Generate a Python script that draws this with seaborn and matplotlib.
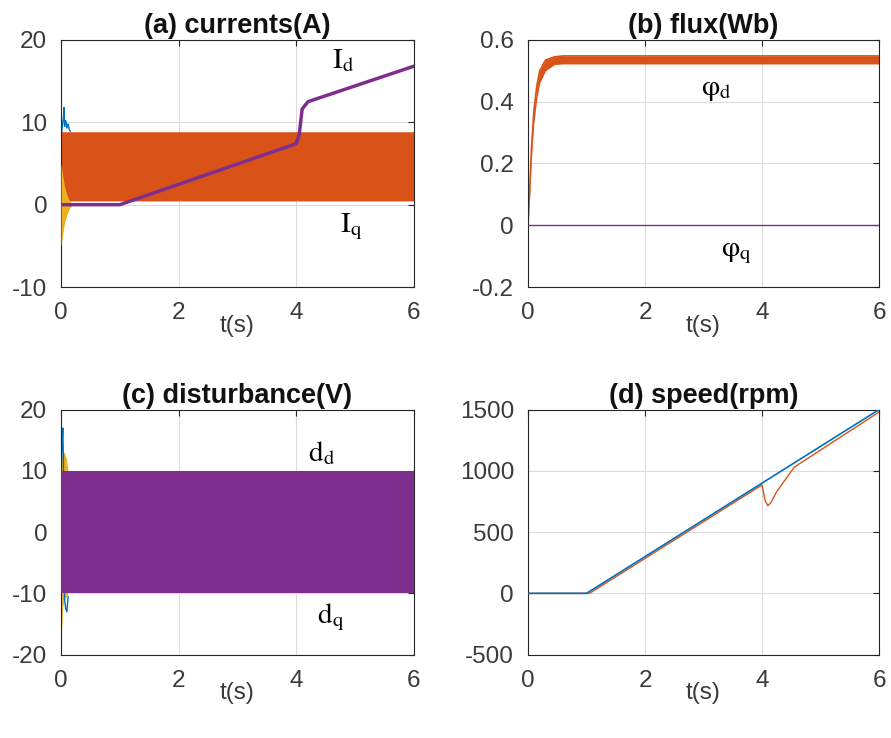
import matplotlib
matplotlib.use("Agg")
import matplotlib.pyplot as plt
import seaborn as sns
import numpy as np
import pandas as pd

sns.set_style("white")
plt.rcParams['font.family'] = ['Liberation Sans', 'DejaVu Sans']
plt.rcParams['mathtext.fontset'] = 'stix'

BLUE = "#0072BD"
ORANGE = "#D95319"
YELLOW = "#EDB120"
PURPLE = "#7E2F8E"

# ---------------- data ----------------
# (a) currents
id_t = [0, 1.0, 4.0, 4.05, 4.1, 4.2, 6.0]
id_v = [0, 0, 7.4, 8.5, 11.6, 12.5, 16.8]
iq_band_t = [0, 0.02, 6.0]
iq_band_lo = [0.5, 0.45, 0.45]
iq_band_hi = [9.0, 8.85, 8.85]
a_blue_t = [0, 0.02, 0.04, 0.05, 0.06, 0.08, 0.1, 0.12, 0.14, 0.16]
a_blue_v = [8.0, 9.5, 10.5, 11.8, 9.5, 10.2, 9.3, 9.8, 9.1, 8.9]
a_yel_t = [0, 0.03, 0.06, 0.1, 0.14, 0.19]
a_yel_lo = [-5.0, -3.5, -2.2, -1.2, -0.5, 0]
a_yel_hi = [5.0, 3.5, 2.2, 1.2, 0.5, 0]

# (b) flux
phd_t = [0, 0.03, 0.06, 0.1, 0.15, 0.2, 0.3, 0.45, 0.6, 6.0]
phd_lo = [0, 0.10, 0.22, 0.33, 0.41, 0.46, 0.50, 0.52, 0.522, 0.522]
phd_hi = [0, 0.12, 0.25, 0.37, 0.45, 0.50, 0.535, 0.545, 0.548, 0.548]
phq_t = [0, 6.0]
phq_v = [0, 0]

# (c) disturbance
dq_band_t = [0, 0.02, 6.0]
dq_band_lo = [-10.0, -10.0, -10.0]
dq_band_hi = [10.0, 10.0, 10.0]
c_blue_t = [0, 0.02, 0.03, 0.04, 0.06, 0.08, 0.1, 0.12]
c_blue_v = [10.0, 15.0, 17.0, 12.0, -11.0, -12.5, -13.0, -10.5]
c_yel_t = [0, 0.01, 0.03, 0.06, 0.09, 0.12]
c_yel_lo = [-20.0, -16.0, -12.0, -11.0, -10.5, -10.0]
c_yel_hi = [10.0, 12.0, 13.0, 13.0, 12.0, 10.0]

# (d) speed
ref_t = [0, 1.0, 6.0]
ref_v = [0, 0, 1500]
spd_t = [0, 1.05, 4.0, 4.05, 4.1, 4.15, 4.25, 4.4, 4.55, 6.0]
spd_v = [0, 0, 885, 760, 715, 740, 830, 930, 1030, 1480]

xticks = [0, 2, 4, 6]

fig = plt.figure(figsize=(8.91, 7.38), dpi=100)
axa = fig.add_axes([0.0685, 0.611, 0.396, 0.335])
axb = fig.add_axes([0.5926, 0.611, 0.394, 0.335])
axc = fig.add_axes([0.0685, 0.113, 0.396, 0.332])
axd = fig.add_axes([0.5926, 0.113, 0.394, 0.332])

def style(ax, title, ylim, yticks):
    ax.set_xlim(0, 6)
    ax.set_ylim(*ylim)
    ax.set_xticks(xticks)
    ax.set_yticks(yticks)
    ax.set_xticklabels([str(v) for v in xticks])
    ax.set_yticklabels([f"{v:g}" for v in yticks])
    ax.grid(True, color="#dcdcdc", linewidth=0.8)
    ax.set_axisbelow(True)
    ax.tick_params(direction="in", length=4, labelsize=17.5, colors="#262626",
                   labelcolor="#3a3a3a", top=True, right=True)
    ax.tick_params(axis="y", pad=10)
    ax.tick_params(axis="x", pad=11)
    for s in ax.spines.values():
        s.set_color("#262626")
        s.set_linewidth(0.8)
    ax.set_title(title, fontsize=19.5, fontweight="bold", pad=5, color="#111111")
    ax.set_xlabel("t(s)", fontsize=17.5, labelpad=-7, color="#3a3a3a")
    ax.set_ylabel("")

# (a)
axa.fill_between(iq_band_t, iq_band_lo, iq_band_hi, color=ORANGE, lw=0, zorder=2)
sns.lineplot(x=a_blue_t, y=a_blue_v, ax=axa, color=BLUE, lw=1.0, zorder=1)
axa.fill_between(a_yel_t, a_yel_lo, a_yel_hi, color=YELLOW, lw=0, zorder=3)
sns.lineplot(x=id_t, y=id_v, ax=axa, color=PURPLE, lw=2.5, zorder=4)
style(axa, "(a) currents(A)", (-10, 20), [-10, 0, 10, 20])
axa.text(4.6, 16.6, r"$\mathrm{I}_{\mathrm{d}}$", fontsize=21, color="black")
axa.text(4.75, -3.3, r"$\mathrm{I}_{\mathrm{q}}$", fontsize=21, color="black")

# (b)
axb.fill_between(phd_t, phd_lo, phd_hi, color=ORANGE, lw=0, zorder=2)
sns.lineplot(x=phd_t, y=phd_hi, ax=axb, color=ORANGE, lw=1.2, zorder=2)
sns.lineplot(x=phq_t, y=phq_v, ax=axb, color=PURPLE, lw=1.0, zorder=3)
style(axb, "(b) flux(Wb)", (-0.2, 0.6), [-0.2, 0, 0.2, 0.4, 0.6])
axb.text(2.95, 0.42, r"$\mathrm{\varphi}_{\mathrm{d}}$", fontsize=21, color="black")
axb.text(3.3, -0.1, r"$\mathrm{\varphi}_{\mathrm{q}}$", fontsize=21, color="black")

# (c)
axc.fill_between(c_yel_t, c_yel_lo, c_yel_hi, color=YELLOW, lw=0, zorder=1)
sns.lineplot(x=c_blue_t, y=c_blue_v, ax=axc, color=BLUE, lw=1.0, zorder=1)
axc.fill_between(dq_band_t, dq_band_lo, dq_band_hi, color=PURPLE, lw=0, zorder=3)
style(axc, "(c) disturbance(V)", (-20, 20), [-20, -10, 0, 10, 20])
axc.text(4.2, 11.6, r"$\mathrm{d}_{\mathrm{d}}$", fontsize=21, color="black")
axc.text(4.35, -14.8, r"$\mathrm{d}_{\mathrm{q}}$", fontsize=21, color="black")

# (d)
sns.lineplot(x=spd_t, y=spd_v, ax=axd, color=ORANGE, lw=1.0, zorder=2)
sns.lineplot(x=ref_t, y=ref_v, ax=axd, color=BLUE, lw=1.2, zorder=3)
style(axd, "(d) speed(rpm)", (-500, 1500), [-500, 0, 500, 1000, 1500])

fig.savefig("out.png", dpi=100)
